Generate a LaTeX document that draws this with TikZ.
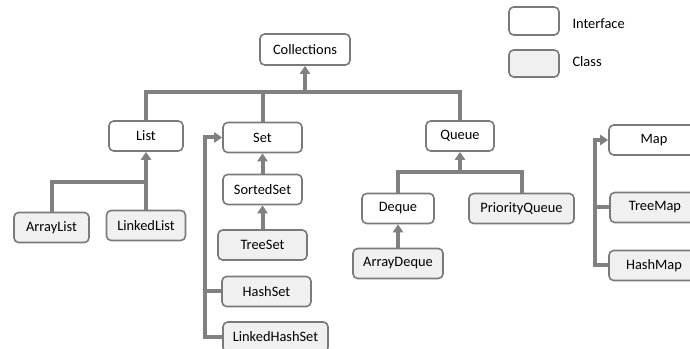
\documentclass[tikz,border=0pt]{standalone}
\usepackage{fontspec}
\setmainfont{Carlito}
\usetikzlibrary{arrows.meta}

\definecolor{linkgray}{RGB}{128,128,128}
\definecolor{boxgray}{RGB}{122,122,122}
\definecolor{classfill}{RGB}{240,240,240}

\tikzset{every picture/.style={line width=0.75pt}}
\tikzset{
  iface/.style={draw=boxgray, line width=1.2pt, fill=white, rounded corners=3.5pt,
    minimum height=22.5pt, inner sep=0pt, font=\fontsize{10.8}{13}\selectfont},
  cls/.style={iface, fill=classfill},
  bw/.style={minimum width=#1*0.75pt},
  bh/.style={minimum height=#1*0.75pt},
  link/.style={draw=linkgray, line width=3pt},
  linkarr/.style={link, -{Triangle[width=7.5pt,length=6pt]}},
}

\begin{document}
\begin{tikzpicture}[x=0.75pt,y=0.75pt,yscale=-1,xscale=1]
\useasboundingbox (0,0) rectangle (690,349);
\clip (0,0) rectangle (690,349);

% Text Node
\node [iface, bw=90, bh=31] (coll) at (305,49.5) {Collections};
% Text Node
\node [iface, bw=74] (list) at (146,136) {List};
% Text Node
\node [iface, bw=79] (set) at (262.5,137.5) {Set};
% Text Node
\node [iface, bw=68] (queue) at (460,136) {Queue};
% Text Node
\node [iface, bw=90] (map) at (654,140) {Map};
% Text Node
\node [cls, bw=75] (alist) at (51.5,227.5) {ArrayList};
% Text Node
\node [cls, bw=79] (llist) at (146,225.5) {LinkedList};
% Text Node
\node [iface, bw=79] (sset) at (262.5,189.5) {SortedSet};
% Text Node
\node [cls, bw=89] (tset) at (262.5,245) {TreeSet};
% Text Node
\node [cls, bw=89] (hset) at (266.5,291.5) {HashSet};
% Text Node
\node [cls, bw=105] (lhset) at (275.5,337) {LinkedHashSet};
% Text Node
\node [iface, bw=72] (deque) at (398,208.5) {Deque};
% Text Node
\node [cls, bw=105] (pq) at (521.5,208.5) {PriorityQueue};
% Text Node
\node [cls, bw=90] (adeque) at (398,263.5) {ArrayDeque};
% Text Node
\node [cls, bw=90] (tmap) at (655,207.5) {TreeMap};
% Text Node
\node [cls, bw=90] (hmap) at (654,265.5) {HashMap};

% Legend
\node [iface, bw=50, bh=28] (keyiface) at (534,21) {};
\node [anchor=west, inner sep=0pt, font=\fontsize{10.8}{13}\selectfont] (keyifacetext) at (572,24) {Interface};
\node [cls, bw=50, bh=27] (keycls) at (534,63.5) {};
\node [anchor=west, inner sep=0pt, font=\fontsize{10.8}{13}\selectfont] (keyclstext) at (572,62) {Class};

% Connection
\coordinate (jcoll) at (305,92);
\draw [link] (list.north) |- (jcoll) -| (queue.north);
\draw [link] (set.north) -- (set.north |- jcoll);
\draw [linkarr] (jcoll) -- (coll.south);
% Connection
\coordinate (jlist) at (146,182);
\draw [link] (alist.north) |- (jlist) -- (llist.north);
\draw [linkarr] (jlist) -- (list.south);
% Connection
\draw [linkarr] (sset.north) -- (set.south);
\draw [linkarr] (tset.north) -- (sset.south);
\coordinate (srail) at (205,337);
\draw [linkarr] (lhset.west) -- (srail) |- (set.west);
\draw [link] (hset.west) -- (hset.west -| srail);
% Connection
\coordinate (jqueue) at (460,172);
\draw [link] (deque.north) |- (jqueue) -| (pq.north);
\draw [linkarr] (jqueue) -- (queue.south);
\draw [linkarr] (adeque.north) -- (deque.south);
% Connection
\coordinate (mrail) at (595,265.5);
\draw [linkarr] (hmap.west) -- (mrail) |- (map.west);
\draw [link] (tmap.west) -- (tmap.west -| mrail);

\end{tikzpicture}
\end{document}
